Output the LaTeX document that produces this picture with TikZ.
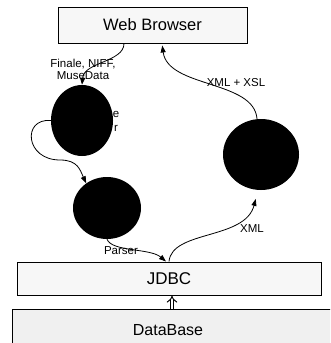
\documentclass[tikz,border=0pt]{standalone}
\usepackage{fontspec}
\setmainfont{Liberation Sans}
\usetikzlibrary{arrows.meta, shapes.geometric}

\begin{document}
\begin{tikzpicture}[
    x=1pt, y=-1pt,
    >={Triangle[length=7pt, width=5pt]},
    box/.style={draw, line width=1pt, fill=#1, inner sep=0pt},
    box/.default={gray!6},
    blob/.style={ellipse, fill=black, inner sep=0pt},
    lbl/.style={font=\fontsize{11.5}{12}\selectfont, inner sep=0pt},
    flow/.style={->, line width=0.8pt}
]
\useasboundingbox (0,0) rectangle (330,343);
\clip (0,0) rectangle (330,343);

% Boxes
\node[box, minimum width=189pt, minimum height=36pt, font=\fontsize{16.5}{18}\selectfont] (browser) at (152.5,25) {Web Browser};
\node[box, minimum width=304pt, minimum height=33pt, font=\fontsize{17}{18}\selectfont] (jdbc) at (169,278.5) {JDBC};
\node[box=gray!12, minimum width=328pt, minimum height=42pt] (dbbox) at (176,330) {};
\node[font=\fontsize{16}{18}\selectfont, inner sep=0pt] (db) at (168,330) {DataBase};

% Processes
\node[lbl] (etxt) at (116,114) {e};
\node[lbl] (rtxt) at (116,128) {r};
\node[blob, minimum width=62pt, minimum height=71pt] (c1) at (82,120.5) {};
\node[blob, minimum width=68pt, minimum height=62pt] (c2) at (107,208) {};
\node[blob, minimum width=76pt, minimum height=71pt] (c3) at (261,154.5) {};

% Arrows
\draw[flow] ([xshift=-28.5pt]browser.south) .. controls (124,62) and (84,62) .. (c1.north);
\draw[flow] (c1.west) .. controls (22,118) and (25,160) .. (60,160)
    .. controls (78,160) and (80,170) .. (c2.130);
\draw[flow] (c2.south) .. controls (112,252) and (150,248) .. ([xshift=-3pt]jdbc.north);
\draw[flow, shorten >=9pt] (jdbc.north) .. controls (172,230) and (245,240) .. ([xshift=-3pt]c3.south);
\draw[flow, shorten >=2pt] ([xshift=-4pt]c3.north) .. controls (254,80) and (168,88) .. ([xshift=9.5pt]browser.south);
\draw[double, double distance=2.6pt, line width=1pt, -{Implies}] ([xshift=3pt]dbbox.north -| jdbc.south) -- ([xshift=3pt]jdbc.south);

% Labels
\node[lbl, align=center] (src) at (83,69.5) {Finale, NIFF,\\MuseData};
\node[lbl] (xsl) at (236,83) {XML + XSL};
\node[lbl] (xml) at (252,229) {XML};
\node[lbl] (parser) at (121,251) {Parser};

\end{tikzpicture}
\end{document}
